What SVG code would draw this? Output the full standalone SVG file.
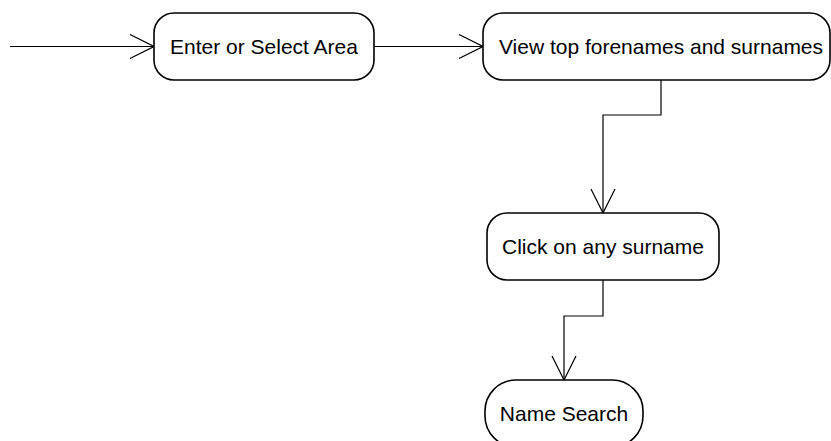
<svg xmlns="http://www.w3.org/2000/svg" width="831" height="441" viewBox="0 0 831 441">
  <style>
    .node rect { fill: #ffffff; stroke: #000000; stroke-width: 1.6; }
    .node text { font-family: "Liberation Sans", Arial, sans-serif; font-size: 21px; fill: #000000; text-anchor: middle; }
    .edge { fill: none; stroke: #000000; stroke-width: 1.2; }
  </style>
  <defs>
    <marker id="open-arrow" viewBox="0 0 26 26" refX="25" refY="13" markerWidth="26" markerHeight="26" markerUnits="userSpaceOnUse" orient="auto">
      <path d="M1,1 L25,13 L1,25" fill="none" stroke="#000000" stroke-width="1.2"/>
    </marker>
  </defs>

  <g id="connectors">
    <path class="edge" d="M10,46.5 H154" marker-end="url(#open-arrow)"/>
    <path class="edge" d="M374,46.5 H483" marker-end="url(#open-arrow)"/>
    <path class="edge" d="M661,80 V115 H603 V213" marker-end="url(#open-arrow)"/>
    <path class="edge" d="M603,280 V316 H564 V380" marker-end="url(#open-arrow)"/>
  </g>

  <g id="enter-or-select-area" class="node">
    <rect x="154" y="13" width="220" height="67" rx="20" ry="20"/>
    <text x="264" y="54">Enter or Select Area</text>
  </g>

  <g id="view-top-names" class="node">
    <rect x="483" y="13" width="347" height="67" rx="20" ry="20"/>
    <text x="661" y="54">View top forenames and surnames</text>
  </g>

  <g id="click-on-surname" class="node">
    <rect x="487" y="213" width="232" height="67" rx="20" ry="20"/>
    <text x="603" y="254">Click on any surname</text>
  </g>

  <g id="name-search" class="node">
    <rect x="485" y="380" width="158" height="67" rx="31" ry="31"/>
    <text x="564" y="421">Name Search</text>
  </g>
</svg>
